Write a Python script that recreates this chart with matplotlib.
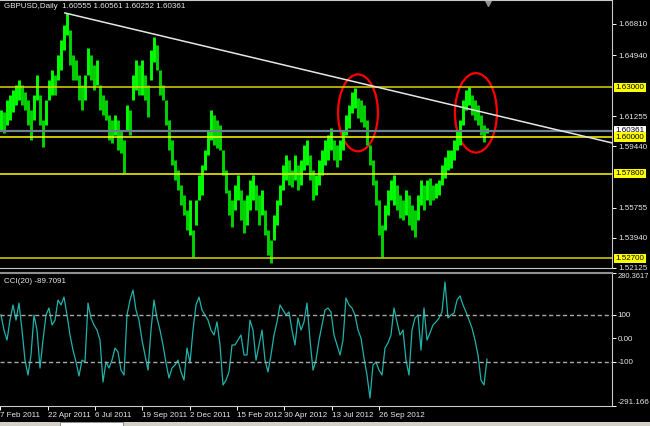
import numpy as np
import matplotlib
matplotlib.use("Agg")
import matplotlib.pyplot as plt
from matplotlib.patches import Ellipse, Rectangle
import matplotlib.transforms as mtrans

plt.rcParams['font.family'] = ['Liberation Sans', 'DejaVu Sans']

#%% DATA (one bar every ~3 px)

highs = [1.6164, 1.6152, 1.6224, 1.6254, 1.6284, 1.6314, 1.6344, 1.6314, 1.6272, 1.6224,
         1.6164, 1.6254, 1.6374, 1.6254, 1.6103, 1.6224, 1.6344, 1.6404, 1.6374, 1.6494,
         1.6584, 1.6675, 1.6747, 1.6645, 1.6494, 1.6464, 1.6374, 1.6314, 1.6374, 1.6536,
         1.6494, 1.6434, 1.6464, 1.6314, 1.6254, 1.6224, 1.6134, 1.6103, 1.6134, 1.6103,
         1.6043, 1.5983, 1.6194, 1.6164, 1.6374, 1.6464, 1.6434, 1.6464, 1.6374, 1.6314,
         1.6524, 1.6603, 1.6554, 1.6404, 1.6314, 1.6224, 1.6103, 1.5983, 1.5863, 1.5803,
         1.5713, 1.5652, 1.5562, 1.5622, 1.5442, 1.5622, 1.5773, 1.5833, 1.5923, 1.6043,
         1.6164, 1.6134, 1.6103, 1.6073, 1.5923, 1.5803, 1.5683, 1.5622, 1.5713, 1.5773,
         1.5683, 1.5622, 1.5652, 1.5743, 1.5773, 1.5713, 1.5652, 1.5683, 1.5562, 1.5442,
         1.5382, 1.5532, 1.5622, 1.5713, 1.5833, 1.5893, 1.5863, 1.5803, 1.5893, 1.5833,
         1.5863, 1.5953, 1.5983, 1.5893, 1.5803, 1.5773, 1.5863, 1.5923, 1.5983, 1.6013,
         1.6055, 1.5983, 1.5953, 1.5983, 1.6043, 1.6134, 1.6194, 1.6272, 1.6296, 1.6236,
         1.6224, 1.6194, 1.6103, 1.5953, 1.5863, 1.5743, 1.5622, 1.5472, 1.5592, 1.5683,
         1.5743, 1.5773, 1.5713, 1.5652, 1.5622, 1.5683, 1.5652, 1.5592, 1.5562, 1.5652,
         1.5743, 1.5713, 1.5743, 1.5755, 1.5713, 1.5725, 1.5743, 1.5833, 1.5881, 1.5923,
         1.5923, 1.5983, 1.6043, 1.6103, 1.6224, 1.6284, 1.6302, 1.6254, 1.6224, 1.6194,
         1.6134, 1.6073, 1.6056]
lows = [1.6043, 1.6025, 1.6073, 1.6103, 1.6152, 1.6194, 1.6224, 1.6194, 1.6164, 1.6073,
        1.5983, 1.6103, 1.6224, 1.6073, 1.5941, 1.6073, 1.6224, 1.6254, 1.6254, 1.6344,
        1.6404, 1.6524, 1.6615, 1.6434, 1.6344, 1.6344, 1.6224, 1.6164, 1.6224, 1.6374,
        1.6344, 1.6284, 1.6314, 1.6164, 1.6134, 1.6103, 1.5983, 1.5965, 1.6013, 1.5923,
        1.5905, 1.5785, 1.6043, 1.6013, 1.6224, 1.6284, 1.6254, 1.6254, 1.6224, 1.6121,
        1.6344, 1.6452, 1.6404, 1.6254, 1.6224, 1.6073, 1.5923, 1.5833, 1.5743, 1.5683,
        1.5592, 1.5532, 1.5442, 1.5412, 1.5280, 1.5472, 1.5622, 1.5652, 1.5803, 1.5893,
        1.5983, 1.5953, 1.5935, 1.5923, 1.5773, 1.5665, 1.5532, 1.5460, 1.5562, 1.5622,
        1.5502, 1.5424, 1.5472, 1.5562, 1.5622, 1.5562, 1.5472, 1.5532, 1.5412, 1.5292,
        1.5244, 1.5382, 1.5472, 1.5592, 1.5683, 1.5743, 1.5713, 1.5701, 1.5743, 1.5683,
        1.5713, 1.5803, 1.5833, 1.5743, 1.5622, 1.5652, 1.5713, 1.5773, 1.5833, 1.5863,
        1.5923, 1.5863, 1.5821, 1.5863, 1.5923, 1.6013, 1.6055, 1.6146, 1.6176, 1.6115,
        1.6091, 1.6061, 1.5953, 1.5833, 1.5713, 1.5592, 1.5412, 1.5280, 1.5442, 1.5532,
        1.5622, 1.5592, 1.5562, 1.5514, 1.5502, 1.5532, 1.5472, 1.5442, 1.5400, 1.5502,
        1.5592, 1.5562, 1.5622, 1.5592, 1.5622, 1.5634, 1.5652, 1.5713, 1.5755, 1.5803,
        1.5815, 1.5863, 1.5923, 1.5953, 1.6073, 1.6164, 1.6194, 1.6134, 1.6103, 1.6073,
        1.6013, 1.5971, 1.6025]

cci = [100, 35, -8, 78, 143, 78, 151, 35, -94, -158,
       -72, 100, 35, -128, -8, 100, 130, 57, 78, 164,
       143, 177, 100, 14, -51, -102, -162, -94, -102, 151,
       87, 57, 35, -8, -188, -102, -128, -94, -42, -59,
       -137, -158, 100, 164, 207, 121, 78, -8, -72, -137,
       35, 164, 87, 35, -29, -106, -171, -128, -115, -94,
       -145, -180, -42, -106, 35, 143, 177, 121, 100, 78,
       35, 14, 70, -29, -201, -180, -145, -29, -29, -8,
       14, -72, -72, 78, 35, -94, -29, 35, -94, -145,
       -72, 14, 70, 143, 121, 100, 113, 35, -29, 87,
       35, 70, 151, -8, -137, -94, -8, 57, 121, 130,
       113, 14, -29, -72, -8, 173, 143, 130, 100, 35,
       1, -85, -158, -257, -115, -102, -137, -158, -42, -20,
       14, 130, 70, 14, 35, -94, -158, 35, 87, 100,
       -51, 130, -8, 23, 57, 70, 87, 113, 242, 87,
       100, 108, 164, 182, 143, 113, 78, 44, -8, -72,
       -180, -201, -89.7091]

date_labels = ["7 Feb 2011", "22 Apr 2011", "6 Jul 2011", "19 Sep 2011", "2 Dec 2011",
               "15 Feb 2012", "30 Apr 2012", "13 Jul 2012", "26 Sep 2012"]

price_ticks = [1.66810, 1.64940, 1.61255, 1.59440, 1.55755, 1.53940, 1.52125]
levels = [1.63000, 1.60000, 1.57800, 1.52700]
last_price = 1.60361
trend_x = [21.3, 203.7]
trend_y = [1.6747, 1.5965]

cci_ticks = [280.3617, 100, 0, -100, -291.166]
cci_tick_labels = ["280.3617", "100", "0.00", "-100", "-291.166"]

#%% PLOT

W, H = 650, 426
fig = plt.figure(figsize=(W/100, H/100), dpi=100, facecolor="black")
ax = fig.add_axes([0, 1 - 268/H, 612/W, 268/H])
ax2 = fig.add_axes([0, 1 - 406/H, 612/W, 133/H])

fs = 5.8
txt = "#E8E8E8"

for a in (ax, ax2):
    a.set_facecolor("black")
    a.set_xlim(-1/3, 204 - 1/3)
    a.spines["left"].set_visible(False)
    for s in ("top", "right", "bottom"):
        a.spines[s].set_color("#C8C8C8")
        a.spines[s].set_linewidth(0.8)
    a.yaxis.tick_right()
    a.tick_params(axis="y", colors="white", labelsize=fs, length=3, width=0.7, pad=1.5, direction="out")

# price bars
hi = np.array(highs)
lo = np.array(lows)
mid = (hi + lo) / 2
x = np.arange(len(hi))
up = np.r_[True, mid[1:] >= mid[:-1]]
ax.vlines(x[up], lo[up], hi[up], color="#00FF00", lw=2.1)
ax.vlines(x[~up], lo[~up], hi[~up], color="#00D400", lw=2.1)

ax.set_ylim(1.52135, 1.6825)
ax.set_xticks([])
ax.set_yticks(price_ticks)
ax.set_yticklabels(["%.5f" % v for v in price_ticks], color=txt)

# horizontal levels
for lv, c in zip(levels, ["#D8D800", "#FFFF00", "#FFFF00", "#D8D800"]):
    ax.axhline(lv, color=c, lw=1.1)
ax.axhline(last_price, color="#708090", lw=1.6)

yt = mtrans.blended_transform_factory(ax.transAxes, ax.transData)
ax.text(1.006, last_price + 0.0005, "%.5f" % last_price, transform=yt, fontsize=fs, color="black",
        va="center", ha="left", bbox=dict(boxstyle="square,pad=0.15", fc="white", ec="none"))
for lv in levels:
    ax.text(1.006, lv, "%.5f" % lv, transform=yt, fontsize=fs, color="black", va="center", ha="left",
            bbox=dict(boxstyle="square,pad=0.15", fc="#FFFF00", ec="none"))

# trend line
ax.plot(trend_x, trend_y, color="#E6E6E6", lw=1.1)

# circles
ax.add_patch(Ellipse((119, 1.6146), 13.3, 0.0463, fill=False, ec="#FF0000", lw=1.6))
ax.add_patch(Ellipse((158.3, 1.6146), 14, 0.0478, fill=False, ec="#FF0000", lw=1.6))

# chart shift marker
ax.plot([162.3], [1.6805], marker="v", ms=5, color="#909090", clip_on=False)

ax.text(4/612, 1 - 3/268, "GBPUSD,Daily  1.60555 1.60561 1.60252 1.60361", transform=ax.transAxes,
        fontsize=fs, color=txt, va="top", ha="left")

# CCI
ax2.plot(np.arange(len(cci)), cci, color="#20B2AA", lw=0.9)
ax2.axhline(100, color="#A8A8A8", lw=1.0, ls=(0, (3, 2)))
ax2.axhline(-100, color="#A8A8A8", lw=1.0, ls=(0, (3, 2)))
ax2.set_ylim(-291.166, 280.3617)
ax2.set_yticks(cci_ticks)
lbls = ax2.set_yticklabels(cci_tick_labels, color=txt)
lbls[0].set_va("top")
lbls[0].set_fontsize(5.4)
lbls[-1].set_va("bottom")
ax2.tick_params(axis="y", pad=1.0)
ax2.spines["top"].set_color("#909090")
ax2.spines["top"].set_linewidth(1.5)
ax2.text(4/612, 1 - 5/133, "CCI(20) -89.7091", transform=ax2.transAxes,
         fontsize=fs, color=txt, va="top", ha="left")

ax2.set_xticks(np.arange(len(date_labels)) * 15.77 - 0.17)
ax2.set_xticklabels(date_labels, ha="left", color=txt)
ax2.tick_params(axis="x", colors="white", labelsize=fs, length=3, width=0.7, pad=1.5, direction="out")
for t in ax2.get_xticklabels():
    t.set_color(txt)

# tab strip at the bottom
fig.patches.append(Rectangle((0, 0), 1, 4/H, transform=fig.transFigure, fc="#D4D0C8", ec="none"))
fig.patches.append(Rectangle((60/W, 0), 63/W, 4/H, transform=fig.transFigure, fc="white", ec="#808080", lw=0.6))

fig.savefig("out.png", dpi=100, facecolor="black")
